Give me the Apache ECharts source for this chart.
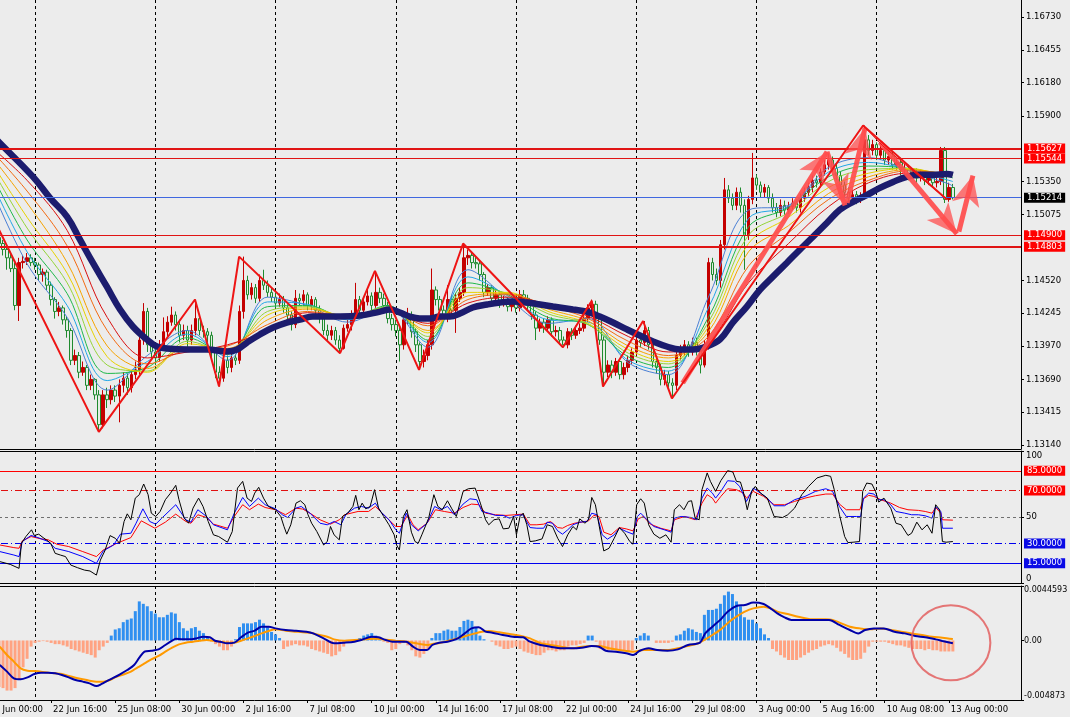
<!DOCTYPE html>
<html><head><meta charset="utf-8">
<script src="https://cdn.jsdelivr.net/npm/echarts@6/dist/echarts.min.js"></script>
<style>html,body{margin:0;padding:0;background:#ececec;overflow:hidden}#c{width:1070px;height:717px}</style>
</head><body><div id="c"></div>
<script>
// ---------------- DATA ----------------
const opens=[1.1489,1.1486,1.1482,1.1488,1.1483,1.1478,1.1471,1.1462,1.1431,1.1467,
1.1468,1.1471,1.1467,1.1465,1.1457,1.1459,1.1448,1.1436,1.1426,1.1429,
1.1419,1.1410,1.1385,1.1389,1.1375,1.1379,1.1364,1.1369,1.1356,1.1331,
1.1356,1.1352,1.1360,1.1355,1.1364,1.1370,1.1362,1.1373,1.1377,1.1402,
1.1426,1.1398,1.1392,1.1387,1.1398,1.1409,1.1417,1.1423,1.1415,1.1406,
1.1410,1.1402,1.1410,1.1420,1.1410,1.1409,1.1406,1.1392,1.1375,1.1370,
1.1385,1.1379,1.1387,1.1385,1.1426,1.1452,1.1440,1.1446,1.1437,1.1452,
1.1448,1.1442,1.1438,1.1433,1.1436,1.1429,1.1423,1.1415,1.1437,1.1435,
1.1440,1.1431,1.1436,1.1427,1.1420,1.1410,1.1406,1.1410,1.1402,1.1395,
1.1412,1.1415,1.1423,1.1436,1.1427,1.1434,1.1439,1.1431,1.1442,1.1437,
1.1431,1.1420,1.1415,1.1410,1.1398,1.1419,1.1423,1.1409,1.1398,1.1384,
1.1389,1.1398,1.1444,1.1436,1.1427,1.1420,1.1436,1.1427,1.1437,1.1442,
1.1471,1.1473,1.1467,1.1466,1.1457,1.1442,1.1446,1.1437,1.1440,1.1433,
1.1436,1.1430,1.1433,1.1429,1.1440,1.1437,1.1431,1.1423,1.1412,1.1417,
1.1412,1.1419,1.1409,1.1410,1.1402,1.1398,1.1409,1.1406,1.1410,1.1412,
1.1420,1.1429,1.1432,1.1420,1.1402,1.1375,1.1381,1.1375,1.1384,1.1373,
1.1379,1.1385,1.1392,1.1402,1.1400,1.1410,1.1398,1.1384,1.1379,1.1369,
1.1373,1.1366,1.1364,1.1389,1.1394,1.1398,1.1392,1.1400,1.1394,1.1381,
1.1398,1.1467,1.1457,1.1452,1.1482,1.1528,1.1521,1.1515,1.1526,1.1515,
1.1490,1.1520,1.1538,1.1532,1.1526,1.1530,1.1521,1.1513,1.1509,1.1515,
1.1511,1.1514,1.1517,1.1513,1.1521,1.1526,1.1530,1.1536,1.1534,1.1543,
1.1549,1.1553,1.1546,1.1540,1.1532,1.1526,1.1521,1.1524,1.1520,1.1523,
1.1570,1.1561,1.1566,1.1557,1.1561,1.1553,1.1556,1.1549,1.1551,1.1545,
1.1546,1.1540,1.1543,1.1538,1.1540,1.1536,1.1540,1.1534,1.1535,1.1561,
1.1520,1.1530];
const closes=[1.1486,1.1482,1.1488,1.1483,1.1478,1.1471,1.1462,1.1431,1.1467,1.1468,
1.1471,1.1467,1.1465,1.1457,1.1459,1.1448,1.1436,1.1426,1.1429,1.1419,
1.1410,1.1385,1.1389,1.1375,1.1379,1.1364,1.1369,1.1356,1.1331,1.1356,
1.1352,1.1360,1.1355,1.1364,1.1370,1.1362,1.1373,1.1377,1.1402,1.1426,
1.1398,1.1392,1.1387,1.1398,1.1409,1.1417,1.1423,1.1415,1.1406,1.1410,
1.1402,1.1410,1.1420,1.1410,1.1409,1.1406,1.1392,1.1375,1.1370,1.1385,
1.1379,1.1387,1.1385,1.1426,1.1452,1.1440,1.1446,1.1437,1.1452,1.1448,
1.1442,1.1438,1.1433,1.1436,1.1429,1.1423,1.1415,1.1437,1.1435,1.1440,
1.1431,1.1436,1.1427,1.1420,1.1410,1.1406,1.1410,1.1402,1.1395,1.1412,
1.1415,1.1423,1.1436,1.1427,1.1434,1.1439,1.1431,1.1442,1.1437,1.1431,
1.1420,1.1415,1.1410,1.1398,1.1419,1.1423,1.1409,1.1398,1.1384,1.1389,
1.1398,1.1444,1.1436,1.1427,1.1420,1.1436,1.1427,1.1437,1.1442,1.1471,
1.1473,1.1467,1.1466,1.1457,1.1442,1.1446,1.1437,1.1440,1.1433,1.1436,
1.1430,1.1433,1.1429,1.1440,1.1437,1.1431,1.1423,1.1412,1.1417,1.1412,
1.1419,1.1409,1.1410,1.1402,1.1398,1.1409,1.1406,1.1410,1.1412,1.1420,
1.1429,1.1432,1.1420,1.1402,1.1375,1.1381,1.1375,1.1384,1.1373,1.1379,
1.1385,1.1392,1.1402,1.1400,1.1410,1.1398,1.1384,1.1379,1.1369,1.1373,
1.1366,1.1364,1.1389,1.1394,1.1398,1.1392,1.1400,1.1394,1.1381,1.1398,
1.1467,1.1457,1.1452,1.1482,1.1528,1.1521,1.1515,1.1526,1.1515,1.1490,
1.1520,1.1538,1.1532,1.1526,1.1530,1.1521,1.1513,1.1509,1.1515,1.1511,
1.1514,1.1517,1.1513,1.1521,1.1526,1.1530,1.1536,1.1534,1.1543,1.1549,
1.1553,1.1546,1.1540,1.1532,1.1526,1.1521,1.1524,1.1520,1.1523,1.1570,
1.1561,1.1566,1.1557,1.1561,1.1553,1.1556,1.1549,1.1551,1.1545,1.1546,
1.1540,1.1543,1.1538,1.1540,1.1536,1.1540,1.1534,1.1535,1.1561,1.1520,
1.1530,1.15214];
const lows=[1.1482,1.1478,1.1479,1.1479,1.1473,1.1461,1.1459,1.1427,1.1418,1.1462,
1.1465,1.1464,1.1461,1.1452,1.1451,1.1444,1.1431,1.1420,1.1422,1.1415,
1.1404,1.1381,1.1381,1.1370,1.1372,1.1360,1.1360,1.1352,1.1325,1.1328,
1.1345,1.1348,1.1350,1.1333,1.1358,1.1356,1.1358,1.1369,1.1373,1.1398,
1.1392,1.1387,1.1381,1.1384,1.1394,1.1405,1.1414,1.1410,1.1400,1.1402,
1.1396,1.1398,1.1406,1.1406,1.1404,1.1400,1.1387,1.1370,1.1363,1.1367,
1.1374,1.1375,1.1381,1.1382,1.1420,1.1436,1.1436,1.1433,1.1434,1.1444,
1.1438,1.1434,1.1429,1.1430,1.1425,1.1419,1.1410,1.1412,1.1431,1.1431,
1.1427,1.1427,1.1423,1.1416,1.1406,1.1402,1.1402,1.1398,1.1391,1.1394,
1.1409,1.1410,1.1420,1.1423,1.1425,1.1431,1.1427,1.1429,1.1433,1.1427,
1.1416,1.1410,1.1405,1.1384,1.1394,1.1415,1.1404,1.1392,1.1377,1.1379,
1.1385,1.1394,1.1431,1.1423,1.1417,1.1417,1.1423,1.1408,1.1434,1.1439,
1.1465,1.1462,1.1462,1.1452,1.1438,1.1439,1.1433,1.1434,1.1429,1.1430,
1.1426,1.1426,1.1425,1.1426,1.1433,1.1427,1.1419,1.1402,1.1409,1.1408,
1.1409,1.1405,1.1405,1.1398,1.1396,1.1395,1.1402,1.1403,1.1407,1.1409,
1.1417,1.1426,1.1417,1.1398,1.1363,1.1371,1.1370,1.1372,1.1369,1.1369,
1.1375,1.1382,1.1389,1.1396,1.1397,1.1394,1.1379,1.1374,1.1364,1.1364,
1.1362,1.1353,1.1360,1.1385,1.1389,1.1388,1.1389,1.1389,1.1374,1.1379,
1.1394,1.1452,1.1448,1.1446,1.1478,1.1517,1.1511,1.1511,1.1509,1.1461,
1.1486,1.1516,1.1528,1.1522,1.1522,1.1517,1.1509,1.1505,1.1506,1.1507,
1.1508,1.1511,1.1509,1.1509,1.1518,1.1523,1.1526,1.1530,1.1530,1.1540,
1.1545,1.1543,1.1536,1.1528,1.1522,1.1517,1.1518,1.1516,1.1517,1.1520,
1.1557,1.1557,1.1553,1.1553,1.1549,1.1549,1.1545,1.1545,1.1540,1.1540,
1.1536,1.1538,1.1534,1.1535,1.1532,1.1532,1.1530,1.1530,1.1532,1.1517,
1.1518,1.1520];
const highs=[1.1493,1.1488,1.1491,1.1490,1.1486,1.1482,1.1476,1.1467,1.1471,1.1473,
1.1475,1.1474,1.1471,1.1467,1.1462,1.1461,1.1451,1.1438,1.1434,1.1431,
1.1422,1.1412,1.1394,1.1392,1.1384,1.1381,1.1373,1.1370,1.1360,1.1360,
1.1362,1.1364,1.1364,1.1369,1.1375,1.1374,1.1377,1.1384,1.1406,1.1433,
1.1429,1.1402,1.1396,1.1402,1.1421,1.1422,1.1430,1.1426,1.1419,1.1415,
1.1414,1.1415,1.1436,1.1423,1.1414,1.1412,1.1409,1.1395,1.1380,1.1389,
1.1389,1.1392,1.1390,1.1431,1.1472,1.1456,1.1450,1.1449,1.1457,1.1461,
1.1452,1.1446,1.1442,1.1441,1.1439,1.1432,1.1426,1.1444,1.1441,1.1444,
1.1442,1.1439,1.1438,1.1431,1.1423,1.1415,1.1414,1.1413,1.1406,1.1415,
1.1419,1.1427,1.1450,1.1439,1.1438,1.1444,1.1442,1.1459,1.1446,1.1441,
1.1434,1.1424,1.1419,1.1414,1.1423,1.1429,1.1426,1.1412,1.1400,1.1394,
1.1402,1.1462,1.1447,1.1439,1.1431,1.1448,1.1440,1.1441,1.1446,1.1483,
1.1478,1.1476,1.1472,1.1469,1.1459,1.1449,1.1448,1.1444,1.1442,1.1439,
1.1438,1.1436,1.1436,1.1444,1.1444,1.1440,1.1434,1.1426,1.1420,1.1420,
1.1422,1.1421,1.1414,1.1413,1.1405,1.1412,1.1412,1.1414,1.1416,1.1424,
1.1432,1.1436,1.1435,1.1423,1.1405,1.1385,1.1385,1.1387,1.1386,1.1383,
1.1389,1.1395,1.1410,1.1406,1.1418,1.1413,1.1400,1.1387,1.1382,1.1377,
1.1376,1.1370,1.1394,1.1398,1.1402,1.1401,1.1404,1.1404,1.1396,1.1402,
1.1471,1.1471,1.1462,1.1486,1.1538,1.1532,1.1525,1.1530,1.1530,1.1520,
1.1523,1.1559,1.1541,1.1535,1.1533,1.1532,1.1525,1.1517,1.1520,1.1519,
1.1518,1.1521,1.1520,1.1525,1.1530,1.1534,1.1540,1.1540,1.1546,1.1553,
1.1559,1.1556,1.1550,1.1543,1.1535,1.1530,1.1528,1.1527,1.1526,1.1582,
1.1574,1.1570,1.1568,1.1566,1.1564,1.1560,1.1560,1.1555,1.1555,1.1550,
1.1549,1.1546,1.1546,1.1545,1.1543,1.1543,1.1543,1.1538,1.1564,1.1564,
1.1534,1.1533];

// rainbow moving-average ribbon (read at every 10th bar), fast -> slow
const ribbonK=[0,10,20,30,40,50,60,70,80,90,100,110,120,130,140,150,160,170,180,190,200,210,220,230,240,241];
const ribbon1=[1.1538,1.1466,1.1421,1.1360,1.1389,1.1410,1.1385,1.1438,1.1431,1.1417,1.1429,1.1396,1.1461,1.1437,1.1416,1.1420,1.1383,1.1373,1.1438,1.1511,1.1515,1.1547,1.1555,1.1544,1.1533,1.1531];
const ribbon2=[1.1543,1.1476,1.1431,1.1368,1.1384,1.1407,1.1388,1.1434,1.1432,1.1419,1.1430,1.1400,1.1455,1.1439,1.1419,1.1417,1.1385,1.1376,1.1429,1.1504,1.1514,1.1543,1.1551,1.1545,1.1536,1.1535];
const ribbon3=[1.1549,1.1486,1.1441,1.1374,1.1379,1.1404,1.1390,1.1430,1.1431,1.1420,1.1431,1.1402,1.1450,1.1440,1.1421,1.1415,1.1388,1.1379,1.1421,1.1497,1.1513,1.1539,1.1548,1.1546,1.1539,1.1538];
const ribbon4=[1.1553,1.1496,1.1450,1.1381,1.1376,1.1401,1.1392,1.1426,1.1430,1.1421,1.1430,1.1405,1.1446,1.1441,1.1424,1.1415,1.1391,1.1382,1.1417,1.1490,1.1509,1.1535,1.1545,1.1546,1.1540,1.1540];
const ribbon5=[1.1557,1.1505,1.1458,1.1388,1.1375,1.1399,1.1394,1.1423,1.1429,1.1422,1.1429,1.1408,1.1442,1.1442,1.1426,1.1416,1.1394,1.1384,1.1413,1.1483,1.1505,1.1530,1.1542,1.1546,1.1541,1.1541];
const ribbon6=[1.1561,1.1517,1.1467,1.1397,1.1378,1.1396,1.1395,1.1419,1.1428,1.1422,1.1428,1.1410,1.1439,1.1441,1.1428,1.1418,1.1397,1.1387,1.1409,1.1476,1.1498,1.1525,1.1539,1.1545,1.1542,1.1542];
const ribbon7=[1.1565,1.1527,1.1481,1.1410,1.1382,1.1394,1.1397,1.1415,1.1426,1.1422,1.1427,1.1414,1.1436,1.1440,1.1431,1.1420,1.1401,1.1389,1.1405,1.1464,1.1492,1.1520,1.1536,1.1544,1.1542,1.1542];
const ribbon8=[1.1567,1.1536,1.1494,1.1421,1.1387,1.1392,1.1398,1.1410,1.1425,1.1422,1.1426,1.1416,1.1433,1.1438,1.1432,1.1422,1.1405,1.1392,1.1401,1.1450,1.1483,1.1514,1.1534,1.1542,1.1542,1.1542];

// slow (thick navy) moving average [bar, price]
const slowMA=[[0,1.15782],[3.2,1.15673],[11.5,1.15389],[15.7,1.15213],[20.0,1.15054],[23.2,1.14862],[26.4,1.14669],[29.9,1.14468],[33.2,1.14276],[36.4,1.14134],[39.9,1.14025],[42.4,1.13966],[44.9,1.13950],[49.9,1.13941],[54.9,1.13941],[59.9,1.13924],[62.4,1.13941],[64.9,1.14000],[68.1,1.14067],[71.4,1.14125],[74.8,1.14167],[78.1,1.14192],[81.3,1.14217],[84.8,1.14217],[88.1,1.14217],[93.1,1.14226],[98.1,1.14259],[100.5,1.14276],[103.0,1.14251],[105.5,1.14217],[108.0,1.14201],[110.5,1.14201],[113.0,1.14217],[115.5,1.14217],[118.0,1.14242],[121.2,1.14293],[124.8,1.14318],[128.0,1.14335],[131.2,1.14343],[134.7,1.14335],[138.0,1.14318],[141.2,1.14301],[146.2,1.14276],[149.7,1.14259],[152.9,1.14217],[156.2,1.14167],[159.7,1.14109],[162.9,1.14058],[166.2,1.14008],[169.6,1.13966],[172.9,1.13941],[176.1,1.13941],[179.6,1.13966],[182.9,1.14025],[186.1,1.14167],[189.6,1.14301],[192.9,1.14443],[196.1,1.14552],[199.6,1.14669],[202.8,1.14778],[206.1,1.14887],[209.6,1.15004],[212.8,1.15113],[216.1,1.15180],[219.6,1.15238],[222.8,1.15297],[226.1,1.15347],[229.5,1.15389],[232.8,1.15406],[236.0,1.15406],[239.5,1.15414],[241.0,1.15406]];

// zigzag pivots [bar, price]
const zigzag=[[0,1.1515],[27.9,1.1325],[51.9,1.1436],[57.9,1.1363],[62.9,1.1472],[88.1,1.1391],[96.8,1.1460],[107.8,1.1377],[118.8,1.1483],[143.7,1.1396],[150.9,1.1435],[153.7,1.1363],[163.7,1.1418],[170.9,1.1353],[218.6,1.1582],[239.5,1.1520]];
// drawn trend line [bar, price]
const trendLine=[[218.6,1.1582],[223.5,1.1565],[239.5,1.1520]];

// drawn arrows [[fromBar, fromPrice],[toBar, toPrice]]
const arrows=[[[173.6,1.1366],[209.6,1.1560]],[[209.6,1.1560],[214.1,1.1515]],[[214.6,1.1517],[219.1,1.1580]],[[222.8,1.1568],[242.0,1.1491]],[[242.5,1.1493],[246.0,1.1540]]];

// horizontal price levels
const priceLevels=[1.15627,1.15544,1.15214,1.14900,1.14803];
const priceTicks=[1.13140,1.13415,1.13690,1.13970,1.14245,1.14520,1.15075,1.15350,1.15900,1.16180,1.16455,1.16730];

// oscillator pane (three lines) [bar, value]
const oscFast=[[3.2,16.2],[5.8,14.1],[8.0,11.1],[8.6,30.1],[9.7,35.2],[11.1,40.3],[11.8,36.0],[12.9,37.0],[14.0,34.4],[14.8,32.7],[15.9,30.1],[17.0,22.5],[18.3,21.2],[19.6,20.0],[20.9,13.6],[22.6,11.6],[24.3,9.8],[25.7,9.1],[27.3,6.0],[28.3,17.4],[29.4,24.3],[30.7,35.9],[32.0,33.9],[33.1,30.1],[34.2,46.6],[35.0,52.4],[35.9,47.9],[37.0,64.3],[38.0,66.9],[39.1,75.0],[40.2,66.9],[41.0,52.9],[42.1,50.4],[43.2,54.2],[44.5,63.1],[45.8,68.1],[47.1,74.0],[47.9,63.1],[49.2,49.1],[50.3,45.3],[51.4,56.7],[52.8,64.3],[53.9,58.0],[55.2,46.6],[56.5,36.5],[57.8,35.2],[60.0,30.9],[61.2,39.0],[62.5,71.9],[63.8,77.0],[64.9,64.3],[66.0,61.8],[66.8,68.1],[67.8,72.5],[69.0,64.3],[70.2,58.0],[72.0,55.5],[73.3,50.4],[74.1,42.8],[74.8,37.0],[75.8,44.1],[77.1,60.5],[78.2,62.3],[79.3,59.3],[80.1,51.7],[81.0,45.3],[82.3,39.0],[84.0,28.8],[84.9,31.4],[85.7,42.8],[86.6,36.5],[87.9,32.7],[88.7,50.4],[90.0,52.9],[91.3,58.0],[92.0,66.4],[92.8,55.5],[93.6,60.5],[94.5,56.2],[95.6,58.0],[96.7,70.7],[97.7,56.7],[99.0,50.4],[100.3,44.1],[101.6,36.5],[102.2,28.8],[102.9,25.0],[103.9,50.4],[104.8,55.5],[105.9,38.5],[106.8,31.4],[107.6,30.1],[108.5,36.5],[110.2,49.1],[111.5,66.9],[112.5,58.0],[113.6,55.5],[114.9,62.3],[115.9,56.7],[117.1,50.4],[118.8,69.4],[120.1,71.4],[121.8,71.9],[123.1,60.5],[124.4,47.9],[125.2,44.1],[126.5,47.9],[127.8,48.6],[128.8,41.0],[130.2,41.5],[131.4,50.4],[132.1,36.5],[133.0,50.4],[133.8,52.9],[134.7,44.1],[135.5,31.4],[136.8,31.9],[138.5,33.4],[139.8,44.1],[141.1,42.8],[142.4,33.9],[143.6,27.6],[144.9,36.5],[146.2,42.8],[147.1,40.3],[147.9,48.6],[149.2,45.3],[150.1,47.9],[150.9,64.8],[151.8,59.3],[152.7,44.1],[153.9,24.3],[155.2,26.3],[156.5,33.9],[157.8,42.0],[159.1,37.7],[160.4,31.4],[161.2,29.4],[162.1,59.3],[163.1,63.8],[164.0,60.5],[165.1,44.1],[166.4,37.0],[167.9,33.9],[169.4,36.5],[170.7,30.9],[171.5,55.5],[172.8,59.3],[173.9,55.5],[175.0,61.8],[175.8,62.3],[176.7,49.1],[177.7,47.9],[178.4,70.7],[179.7,83.4],[180.5,77.0],[181.8,69.4],[183.1,77.5],[184.8,85.1],[186.1,84.1],[187.0,77.0],[188.0,76.5],[188.7,69.4],[189.7,55.5],[190.8,69.4],[191.7,73.2],[193.0,68.1],[194.7,64.3],[196.4,50.4],[198.5,49.6],[199.8,51.7],[201.5,56.7],[203.3,66.9],[205.0,73.2],[207.1,79.6],[209.3,81.6],[210.5,80.8],[211.4,70.7],[212.7,51.7],[214.0,35.2],[214.8,30.6],[216.1,30.9],[217.7,31.4],[218.5,69.4],[219.5,75.7],[220.8,75.0],[221.7,69.4],[222.5,61.3],[223.8,64.3],[225.5,56.7],[226.8,45.3],[228.1,44.1],[229.8,36.0],[230.7,37.7],[232.0,46.1],[233.3,40.3],[234.6,44.1],[235.8,37.7],[236.7,59.3],[237.7,55.5],[238.4,31.4],[239.3,30.9],[241.0,31.4]];
const oscMid=[[3.2,23.8],[6.7,21.2],[8.0,20.0],[8.8,31.4],[11.0,36.0],[12.7,34.4],[15.3,31.4],[17.0,26.3],[20.4,23.8],[23.9,20.0],[27.3,14.9],[29.0,24.3],[31.6,28.8],[33.3,37.0],[35.9,37.7],[37.2,45.3],[38.9,56.2],[40.6,46.6],[42.1,44.6],[43.6,49.1],[47.1,59.3],[49.6,47.9],[50.9,46.1],[52.6,55.5],[54.8,50.4],[56.5,44.1],[60.0,40.3],[61.7,52.9],[63.8,64.8],[65.5,58.0],[67.7,64.3],[69.4,59.3],[72.0,56.2],[73.7,51.7],[75.0,49.6],[77.1,56.7],[78.4,58.0],[80.6,52.9],[83.1,45.3],[84.9,44.1],[86.6,46.6],[88.3,44.1],[89.6,52.2],[91.7,56.7],[93.4,58.0],[95.2,56.7],[96.9,60.5],[98.2,54.2],[100.3,47.9],[102.0,40.3],[102.9,37.7],[104.6,52.9],[105.9,44.1],[107.6,39.5],[109.8,45.3],[111.7,58.0],[113.2,55.5],[114.9,58.0],[116.6,51.7],[118.8,59.8],[120.5,63.8],[122.2,63.1],[123.5,54.2],[125.2,52.9],[126.9,51.2],[128.8,51.2],[130.4,49.1],[132.1,51.2],[133.7,51.7],[135.5,42.0],[137.2,41.5],[138.9,41.5],[139.8,46.1],[141.1,45.3],[142.4,39.5],[143.6,37.0],[144.9,40.3],[146.2,44.1],[147.9,46.1],[149.7,46.6],[150.9,52.9],[152.2,51.7],[153.5,36.5],[154.8,33.2],[156.5,36.5],[157.8,41.5],[159.5,39.0],[161.2,37.0],[162.3,50.4],[163.1,52.9],[164.7,47.9],[166.4,42.8],[169.0,40.3],[170.7,38.5],[171.5,49.1],[173.2,50.4],[175.8,49.6],[177.1,47.9],[178.4,64.3],[179.7,71.9],[181.0,68.1],[181.8,64.3],[183.1,69.4],[184.8,77.5],[186.5,77.0],[187.8,73.2],[189.5,61.8],[191.2,71.9],[193.0,68.1],[194.7,64.3],[196.4,58.5],[199.0,58.5],[201.5,63.1],[204.1,65.6],[206.7,69.4],[209.3,71.4],[211.0,69.4],[212.7,58.0],[214.4,50.4],[217.0,50.4],[218.0,50.4],[218.7,64.3],[220.0,68.1],[221.3,67.4],[222.5,63.1],[223.8,63.1],[225.5,59.3],[226.8,54.2],[229.0,52.9],[230.7,51.7],[232.4,51.7],[234.1,50.9],[235.8,49.1],[236.7,58.0],[238.0,54.2],[238.4,41.5],[241.0,41.5]];
const oscSlow=[[3.2,28.8],[6.7,26.8],[8.0,26.3],[8.8,31.9],[11.0,35.2],[13.5,33.4],[15.3,32.7],[17.4,29.4],[20.4,27.6],[23.9,23.8],[27.3,20.0],[29.0,25.0],[32.4,30.1],[35.9,34.4],[38.5,47.1],[41.9,41.5],[44.5,46.1],[47.1,52.2],[49.6,46.6],[50.9,45.3],[52.6,51.7],[54.8,49.6],[56.5,44.6],[60.0,41.5],[61.7,50.4],[63.8,59.3],[65.5,55.5],[67.7,59.8],[69.4,57.2],[72.0,55.5],[74.5,51.7],[77.1,56.7],[78.8,56.0],[80.6,52.9],[83.1,47.9],[85.7,44.6],[87.9,47.9],[89.2,51.7],[92.6,54.2],[95.2,54.2],[96.9,58.0],[98.6,52.9],[102.0,42.8],[103.3,42.8],[105.0,51.7],[106.3,44.1],[107.6,40.3],[109.8,45.3],[111.9,55.5],[114.1,54.2],[116.6,52.9],[118.8,57.2],[120.9,59.8],[122.7,59.3],[124.4,52.9],[126.9,51.7],[129.5,51.2],[131.7,51.7],[133.8,52.2],[135.5,44.1],[137.2,44.1],[138.9,44.6],[140.6,46.6],[142.4,42.0],[143.6,41.5],[144.9,43.6],[146.6,45.3],[148.4,46.1],[150.1,47.1],[151.4,51.2],[152.7,50.4],[153.9,38.5],[155.7,36.5],[157.8,42.0],[159.5,41.0],[161.2,39.5],[162.5,48.6],[163.8,50.4],[165.5,44.6],[168.1,41.5],[170.7,39.5],[171.5,47.9],[174.1,50.4],[176.7,47.9],[178.4,60.5],[179.7,66.9],[181.0,64.3],[181.8,60.5],[183.1,65.6],[184.8,71.4],[187.0,70.7],[188.7,68.1],[189.5,64.3],[191.2,69.4],[193.8,65.6],[196.4,59.3],[199.0,59.3],[201.5,61.8],[204.1,64.3],[206.7,66.1],[209.3,67.4],[211.0,67.4],[212.7,59.8],[214.4,55.5],[217.8,55.5],[218.7,63.8],[220.0,66.4],[221.3,65.6],[223.0,63.1],[225.5,60.5],[227.7,57.2],[229.8,55.5],[232.4,55.0],[234.1,54.2],[235.8,52.9],[236.7,57.2],[238.0,52.9],[238.4,47.9],[241.0,47.6]];
const oscLevels=[85,70,50,30,15];
const oscTicks=[0,50,100];

// MACD pane
const macdHist=[-0.0036,-0.0037,-0.0038,-0.0038,-0.0039,-0.0041,-0.0041,-0.0039,-0.0032,-0.0022,
-0.0015,-0.0005,-0.0002,-0.0001,-0.00005,-0.0001,-0.0002,-0.0003,-0.0003,-0.0004,
-0.0005,-0.0007,-0.0008,-0.0009,-0.0010,-0.0011,-0.0012,-0.0014,-0.0008,-0.0005,
-0.0002,0.0004,0.0009,0.0010,0.0015,0.0017,0.0018,0.0024,0.0032,0.0030,
0.0028,0.0024,0.0022,0.0019,0.0019,0.0021,0.0023,0.0022,0.0015,0.0010,
0.0008,0.0010,0.0011,0.0008,0.0006,0.0002,-0.0001,-0.0003,-0.0005,-0.0008,
-0.0008,-0.0005,0.0001,0.0011,0.0014,0.0014,0.0014,0.0015,0.0017,0.0014,
0.0011,0.0007,0.0005,0.0002,-0.0007,-0.0005,-0.0004,-0.0003,-0.0004,-0.0004,
-0.0005,-0.0007,-0.0008,-0.0009,-0.0010,-0.0011,-0.0013,-0.0012,-0.0009,-0.0005,
-0.0002,-0.0001,0.0001,0.0002,0.0004,0.0005,0.0006,0.0004,0.0001,-0.0001,
-0.0002,-0.0008,-0.0007,-0.0003,-0.0002,-0.0004,-0.0008,-0.0013,-0.0014,-0.0011,
-0.0007,0.0002,0.0006,0.0006,0.0008,0.0009,0.0008,0.0008,0.0011,0.0016,
0.0017,0.0016,0.0011,0.0004,0.0001,0.0000,-0.0001,-0.0004,-0.0005,-0.0007,
-0.0007,-0.0006,-0.0005,-0.0007,-0.0009,-0.0010,-0.0011,-0.0012,-0.0012,-0.0010,
-0.0008,-0.0008,-0.0009,-0.0008,-0.0008,-0.0005,-0.0004,-0.0004,-0.0003,-0.0002,
0.0004,0.0004,-0.0001,-0.0007,-0.0008,-0.0008,-0.0008,-0.0008,-0.0008,-0.0008,
-0.0009,-0.0008,0.0002,0.0004,0.0006,0.0004,0.0000,-0.0002,-0.0002,-0.0002,
-0.0002,-0.0001,0.0004,0.0005,0.0008,0.0010,0.0009,0.0007,0.0006,0.0021,
0.0025,0.0025,0.0026,0.0030,0.0037,0.0040,0.0038,0.0032,0.0028,0.0019,
0.0017,0.0017,0.0014,0.0010,0.0005,0.0002,-0.0007,-0.0009,-0.0012,-0.0014,
-0.0016,-0.0016,-0.0016,-0.0014,-0.0012,-0.0010,-0.0008,-0.0007,-0.0005,-0.0004,
-0.0003,-0.0004,-0.0006,-0.0009,-0.0011,-0.0014,-0.0016,-0.0016,-0.0015,-0.0010,
-0.0005,-0.0001,-0.0001,-0.0001,-0.0001,-0.0002,-0.0003,-0.0004,-0.0004,-0.0005,
-0.0006,-0.0007,-0.0007,-0.0007,-0.0008,-0.0007,-0.0008,-0.0008,-0.0009,-0.0009,
-0.0009,-0.0009];
const macdMain=[[3.2,-0.00201],[5.0,-0.00255],[6.7,-0.00310],[8.4,-0.00318],[10.1,-0.00302],[11.8,-0.00275],[13.5,-0.00264],[15.3,-0.00264],[17.0,-0.00269],[18.7,-0.00283],[20.4,-0.00302],[22.1,-0.00324],[23.9,-0.00337],[25.6,-0.00351],[27.3,-0.00373],[28.6,-0.00356],[29.9,-0.00332],[31.6,-0.00305],[33.3,-0.00275],[35.0,-0.00242],[36.7,-0.00201],[38.0,-0.00141],[39.3,-0.00092],[41.0,-0.00084],[42.8,-0.00073],[44.5,-0.00037],[46.2,-0.00002],[47.1,0.00015],[48.8,0.00009],[50.5,0.00009],[52.2,0.00017],[53.9,0.00031],[55.6,0.00026],[56.9,-0.00002],[58.2,-0.00010],[59.9,-0.00023],[61.7,-0.00018],[63.4,0.00026],[65.1,0.00064],[66.8,0.00080],[68.5,0.00113],[70.3,0.00113],[72.0,0.00099],[74.5,0.00086],[77.1,0.00080],[79.7,0.00072],[81.4,0.00058],[84.0,0.00017],[86.6,-0.00023],[89.2,-0.00018],[91.7,-0.00010],[93.4,0.00004],[96.0,0.00031],[97.7,0.00026],[99.5,0.00004],[101.2,-0.00010],[102.9,-0.00010],[104.6,-0.00010],[106.3,-0.00051],[108.0,-0.00078],[109.8,-0.00078],[111.1,-0.00037],[112.8,-0.00018],[114.9,-0.00010],[117.5,0.00017],[119.2,0.00058],[120.9,0.00099],[122.7,0.00108],[124.4,0.00072],[126.1,0.00064],[128.7,0.00045],[131.2,0.00031],[133.8,0.00026],[135.5,-0.00010],[138.1,-0.00037],[140.6,-0.00051],[143.2,-0.00064],[145.8,-0.00064],[148.4,-0.00059],[150.9,-0.00045],[152.7,-0.00051],[154.4,-0.00084],[156.9,-0.00092],[159.5,-0.00105],[161.2,-0.00119],[162.9,-0.00084],[165.1,-0.00064],[167.2,-0.00078],[169.8,-0.00084],[172.4,-0.00073],[174.9,-0.00037],[177.9,-0.00018],[179.2,0.00058],[181.0,0.00113],[183.1,0.00173],[184.8,0.00236],[187.0,0.00282],[189.1,0.00290],[191.2,0.00310],[193.8,0.00299],[195.5,0.00263],[197.2,0.00222],[199.0,0.00189],[200.7,0.00168],[204.1,0.00168],[207.5,0.00168],[210.1,0.00168],[212.7,0.00127],[215.3,0.00086],[217.4,0.00058],[219.1,0.00086],[221.3,0.00099],[223.8,0.00099],[226.4,0.00072],[229.0,0.00058],[231.6,0.00037],[234.1,0.00026],[236.7,0.00009],[238.4,-0.00004],[241.0,-0.00023]];
const macdSignal=[[3.2,-0.00051],[5.0,-0.00119],[6.7,-0.00173],[8.4,-0.00228],[10.1,-0.00247],[11.8,-0.00250],[13.5,-0.00255],[15.3,-0.00264],[17.0,-0.00269],[18.7,-0.00275],[20.4,-0.00291],[22.1,-0.00305],[23.9,-0.00318],[25.6,-0.00329],[27.3,-0.00337],[29.0,-0.00337],[30.7,-0.00324],[32.4,-0.00296],[34.2,-0.00277],[35.9,-0.00255],[37.6,-0.00220],[39.3,-0.00188],[41.0,-0.00155],[42.8,-0.00127],[44.5,-0.00092],[46.2,-0.00059],[47.9,-0.00032],[49.6,-0.00018],[51.4,-0.00010],[53.1,-0.00002],[54.8,0.00004],[56.5,-0.00002],[58.2,-0.00010],[59.9,-0.00018],[61.7,-0.00018],[63.4,-0.00002],[65.1,0.00017],[66.8,0.00037],[68.5,0.00058],[70.3,0.00078],[72.0,0.00091],[74.5,0.00080],[77.1,0.00072],[78.8,0.00067],[80.6,0.00064],[82.3,0.00050],[84.9,0.00031],[86.6,0.00009],[89.2,-0.00002],[91.7,0.00004],[94.3,0.00009],[96.9,0.00015],[98.6,0.00009],[100.3,0.00004],[102.0,-0.00002],[104.6,-0.00010],[106.3,-0.00018],[108.0,-0.00029],[109.8,-0.00037],[111.1,-0.00029],[113.2,-0.00018],[115.8,0.00004],[118.4,0.00026],[120.9,0.00050],[123.5,0.00072],[125.2,0.00078],[127.8,0.00067],[130.4,0.00053],[133.0,0.00039],[135.5,0.00017],[138.1,-0.00023],[140.6,-0.00037],[143.2,-0.00051],[145.8,-0.00064],[148.4,-0.00051],[150.9,-0.00045],[152.7,-0.00045],[155.2,-0.00064],[157.8,-0.00078],[161.2,-0.00092],[163.8,-0.00078],[166.4,-0.00078],[169.8,-0.00078],[172.4,-0.00064],[174.9,-0.00045],[177.5,-0.00023],[179.2,0.00009],[181.0,0.00045],[183.1,0.00091],[185.2,0.00154],[187.0,0.00195],[189.1,0.00236],[191.2,0.00263],[193.8,0.00277],[195.5,0.00263],[197.2,0.00236],[199.8,0.00217],[202.4,0.00195],[205.8,0.00173],[209.3,0.00173],[211.0,0.00168],[212.7,0.00146],[215.3,0.00113],[217.8,0.00099],[220.4,0.00091],[223.0,0.00099],[225.5,0.00086],[228.1,0.00072],[230.7,0.00058],[233.3,0.00045],[235.8,0.00031],[238.4,0.00023],[241.0,0.00012]];
const macdTicks=[-0.004873,0,0.0044593];
const macdTickLabels=['-0.004873','0.00','0.0044593'];
const circleMark=[[240.5,-0.00018]];

// ---------------- AXIS CATEGORIES (H4 bars, weekends skipped) ----------------
const N_CAT=259;
const MONTHS=['Jan','Feb','Mar','Apr','May','Jun','Jul','Aug','Sep','Oct','Nov','Dec'];
function buildTimes(n){
  const out=[]; let t=Date.UTC(2020,5,18,0,0);
  while(out.length<n){
    const d=new Date(t), wd=d.getUTCDay();
    if(wd!==0&&wd!==6){ out.push(d.getUTCDate()+' '+MONTHS[d.getUTCMonth()]+' '+String(d.getUTCHours()).padStart(2,'0')+':00'); }
    t+=4*3600*1000;
  }
  return out;
}
const barTimes=buildTimes(N_CAT);

// ---------------- STYLE ----------------
const FONT='DejaVu Sans';
const FS=8.5;
const weekSplit=(i)=> i>=12 && i<=241 && (i-12)%30===0;
const labelEvery=(i)=> i%16===0 && i<=240;
const ribbonColors=['#4a7fd4','#22a6e6','#1fb84a','#95d33a','#e6d200','#f5a300','#f26a12','#d80f0f'];
const levelColor=['#e01414','#e01414','#3f67e0','#e01414','#e01414'];
const levelWidth=[2,1,1,1,2];
const levelBg=['#ff0000','#ff0000','#000000','#ff0000','#ff0000'];
const oscLevelColor=['#ff0000','#e01010','#707070','#0000ee','#0000ee'];
const oscLevelType=['solid',[7,3,1,3],[3,3],[7,3,1,3],'solid'];
const oscLevelBg=['#ff0000','#ff0000',null,'#0a0ae6','#0a0ae6'];
// arrow head outline; bounding box centred on the tip so the tip sits on the data point
const ARROW_HEAD='path://M0,0 L14,30 L0,22 L-14,30 Z M0,-30 L0.2,-30 L0,-29.8 Z';
const ARROW_COLOR='rgba(255,78,78,0.93)';

function boxLabel(text,bg){
  return {show:true,position:'end',formatter:text,color:'#fff',backgroundColor:bg,padding:[1,3,0,3],fontSize:FS,fontFamily:FONT,distance:3,lineHeight:9};
}
function lineS(xi,yi,data,color,width,extra){
  return Object.assign({type:'line',xAxisIndex:xi,yAxisIndex:yi,data:data,showSymbol:false,symbol:'none',
    lineStyle:{color:color,width:width},itemStyle:{color:color},animation:false,silent:true},extra||{});
}
function catAxis(grid,showLabels){
  return {type:'category',gridIndex:grid,data:barTimes,boundaryGap:false,
    axisLine:{show:true,onZero:false,lineStyle:{color:'#000',width:1}},
    axisTick:{show:showLabels,interval:labelEvery,length:3,lineStyle:{color:'#000'}},
    axisLabel:{show:showLabels,interval:labelEvery,align:'left',color:'#000',fontSize:FS,fontFamily:FONT,margin:5,padding:[0,0,0,2],hideOverlap:false},
    splitLine:{show:true,interval:weekSplit,lineStyle:{color:'#000',type:[3,3],width:1}}};
}
function valAxisX(grid){ return {type:'value',gridIndex:grid,min:0,max:N_CAT-1,show:false}; }
function topLine(grid){
  return {type:'value',gridIndex:grid,min:0,max:N_CAT-1,position:'top',
    axisLine:{show:true,onZero:false,lineStyle:{color:'#000',width:1}},axisTick:{show:false},axisLabel:{show:false},splitLine:{show:false}};
}
function rightAxis(grid,min,max,ticks,fmt,edgeAlign,fs,margin){
  const lab={customValues:ticks,formatter:fmt,color:'#000',fontSize:fs||FS,fontFamily:FONT,margin:margin||5};
  if(edgeAlign){ lab.verticalAlignMaxLabel='top'; lab.verticalAlignMinLabel='bottom'; }
  return {type:'value',gridIndex:grid,position:'right',min:min,max:max,
    axisLine:{show:true,onZero:false,lineStyle:{color:'#000',width:1}},
    axisTick:{show:true,customValues:ticks,length:3,lineStyle:{color:'#000'}},
    axisLabel:lab,splitLine:{show:false}};
}

const candleData=opens.map((o,i)=>[o,closes[i],lows[i],highs[i]]);
const ribbons=[ribbon1,ribbon2,ribbon3,ribbon4,ribbon5,ribbon6,ribbon7,ribbon8];

const series=[];
series.push(lineS(1,0,[[0,priceLevels[0]]],'rgba(0,0,0,0)',0,{z:1,
  markLine:{symbol:'none',silent:true,animation:false,precision:5,
    data:priceLevels.map((v,i)=>({yAxis:v,lineStyle:{color:levelColor[i],width:levelWidth[i],type:'solid'},label:boxLabel(v.toFixed(5),levelBg[i])}))}}));
series.push({type:'candlestick',xAxisIndex:0,yAxisIndex:0,data:candleData,barWidth:3,z:2,animation:false,silent:true,
  itemStyle:{color:'#c40000',color0:'#e4eee4',borderColor:'#c40000',borderColor0:'#1f8a2e',borderWidth:1}});
ribbons.forEach((r,j)=>{
  series.push(lineS(1,0,ribbonK.map((k,i)=>[k,r[i]]),ribbonColors[j],1,{smooth:0.35,z:3}));
});
series.push(lineS(1,0,slowMA,'#1c1c6e',6.5,{smooth:0.4,z:4}));
series.push(lineS(1,0,trendLine,'#ee1414',1,{z:5}));
series.push(lineS(1,0,zigzag,'#ee1414',2,{z:5,
  markLine:{silent:true,animation:false,precision:5,symbol:'none',
    lineStyle:{color:ARROW_COLOR,width:5,type:'solid',cap:'butt'},label:{show:false},
    data:arrows.map(a=>[{coord:a[0]},{coord:a[1]}])}}));
// arrow heads (rotation filled in after layout from the library's own scales)
series.push({id:'arrowHeads',type:'scatter',xAxisIndex:1,yAxisIndex:0,data:arrows.map(a=>a[1]),symbol:ARROW_HEAD,symbolSize:[28,60],
  silent:true,z:7,animation:false,itemStyle:{color:ARROW_COLOR,borderWidth:0}});

series.push(lineS(3,1,oscSlow,'#ff0000',1,{z:3}));
series.push(lineS(3,1,oscMid,'#0000ff',1,{z:4}));
series.push(lineS(3,1,oscFast,'#000000',1,{z:5,
  markLine:{symbol:'none',silent:true,animation:false,precision:4,
    data:oscLevels.map((v,i)=>({yAxis:v,lineStyle:{color:oscLevelColor[i],width:1,type:oscLevelType[i]},
      label:oscLevelBg[i]?boxLabel(v.toFixed(4),oscLevelBg[i]):{show:false}}))}}));

series.push({type:'bar',xAxisIndex:4,yAxisIndex:2,barWidth:3,animation:false,silent:true,z:2,
  data:macdHist.map(v=>({value:v,itemStyle:{color:v>=0?'#2f8ff0':'#ffa382'}}))});
series.push(lineS(5,2,macdSignal,'#ff9a00',2,{smooth:0.3,z:4}));
series.push(lineS(5,2,macdMain,'#0000a8',2,{smooth:0.3,z:5}));
series.push({type:'scatter',xAxisIndex:5,yAxisIndex:2,data:circleMark,symbol:'circle',symbolSize:[79,75],silent:true,z:10,animation:false,
  itemStyle:{color:'rgba(0,0,0,0)',borderColor:'#e25858',borderWidth:2}});

const nearestLabel=(v)=>{let b=0;for(let i=1;i<macdTicks.length;i++){if(Math.abs(macdTicks[i]-v)<Math.abs(macdTicks[b]-v))b=i;}return macdTickLabels[b];};

const option={
  backgroundColor:'#ececec',
  animation:false,
  textStyle:{fontFamily:FONT},
  grid:[
    {left:-13,right:49,top:0,height:449,outerBoundsMode:'none',containLabel:false},
    {left:-13,right:49,top:451,height:132,outerBoundsMode:'none',containLabel:false},
    {left:-13,right:49,top:586,height:114,outerBoundsMode:'none',containLabel:false}
  ],
  xAxis:[catAxis(0,false),valAxisX(0),catAxis(1,false),valAxisX(1),catAxis(2,true),valAxisX(2),topLine(1),topLine(2)],
  yAxis:[
    rightAxis(0,1.13106,1.16873,priceTicks,(v)=>v.toFixed(5),false),
    rightAxis(1,0,100,oscTicks,(v)=>String(Math.round(v)),true),
    rightAxis(2,macdTicks[0],macdTicks[2],macdTicks,nearestLabel,true,8,3)
  ],
  series:series
};
const chart=echarts.init(document.getElementById('c'),null,{renderer:'canvas'});
chart.setOption(option);
// orient each arrow head along its shaft using the chart's own data->pixel mapping
// (zrender rotation maps the symbol's up-vector (0,-1) to (-sin r, -cos r))
const finder={xAxisIndex:1,yAxisIndex:0};
const heads=arrows.map(a=>{
  const p0=chart.convertToPixel(finder,a[0]);
  const p1=chart.convertToPixel(finder,a[1]);
  const ang=Math.atan2(-(p1[0]-p0[0]),-(p1[1]-p0[1]))*180/Math.PI;
  return {value:a[1],symbolRotate:ang};
});
chart.setOption({series:[{id:'arrowHeads',data:heads}]});
</script></body></html>
